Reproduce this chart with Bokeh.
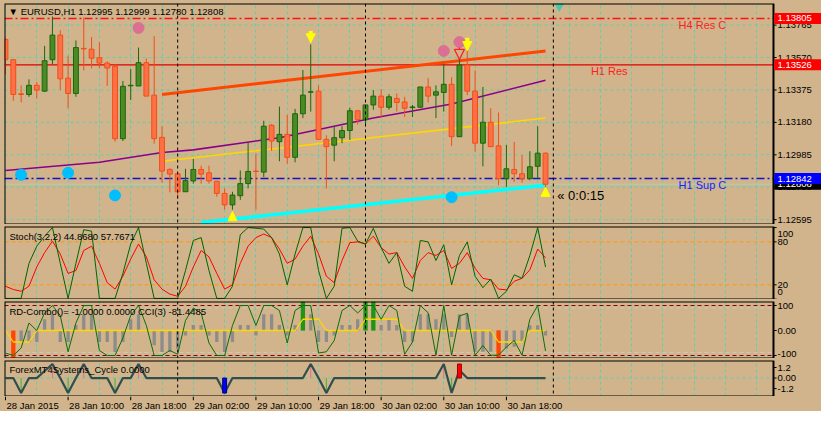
from bokeh.plotting import figure
from bokeh.layouts import column
from bokeh.models import (Range1d, FixedTicker, Span, Label, Arrow, NormalHead,
                          ColumnDataSource, Grid)
from bokeh.core.properties import value
from bokeh.embed import file_html
from bokeh.resources import INLINE

# ---------------- data ----------------
opens = [1.13679,1.13557,1.13352,1.13348,1.13403,1.13368,1.13557,1.13705,1.13446,1.13354,
         1.13625,1.13620,1.13569,1.13537,1.13517,1.13082,1.13400,1.13399,1.13539,1.13344,
         1.13090,1.12897,1.12871,1.12763,1.12828,1.12897,1.12877,1.12826,1.12753,1.12684,
         1.12739,1.12812,1.12887,1.12881,1.13163,1.13064,1.13108,1.12970,1.13232,1.13362,
         1.13368,1.13078,1.13043,1.13088,1.13131,1.13250,1.13196,1.13285,1.13338,1.13271,
         1.13324,1.13303,1.13269,1.13271,1.13393,1.13344,1.13360,1.13409,1.13094,1.13525,
         1.13368,1.13055,1.13181,1.13039,1.12842,1.12897,1.12871,1.12842,1.12916,1.12995]
highs = [1.13689,1.13559,1.13403,1.13439,1.13423,1.13640,1.13817,1.13734,1.13581,1.13673,
         1.13811,1.13693,1.13663,1.13547,1.13531,1.13429,1.13501,1.13630,1.13565,1.13699,
         1.13157,1.12905,1.12873,1.12901,1.12960,1.12920,1.12920,1.12826,1.12783,1.12763,
         1.12891,1.13058,1.12993,1.13190,1.13170,1.13275,1.13226,1.13261,1.13495,1.13649,
         1.13403,1.13102,1.13153,1.13157,1.13269,1.13252,1.13287,1.13374,1.13380,1.13350,
         1.13354,1.13334,1.13285,1.13393,1.13446,1.13403,1.13531,1.13452,1.13560,1.13610,
         1.13492,1.13393,1.13265,1.13240,1.13045,1.13062,1.12984,1.13007,1.13157,1.12999]
lows = [1.13470,1.13309,1.13300,1.13334,1.13324,1.13364,1.13531,1.13374,1.13265,1.13334,
        1.13492,1.13505,1.13505,1.13399,1.13064,1.13068,1.13315,1.13399,1.13338,1.13052,
        1.12818,1.12759,1.12720,1.12763,1.12812,1.12812,1.12812,1.12733,1.12655,1.12655,
        1.12714,1.12783,1.12655,1.12851,1.13009,1.12946,1.12931,1.12940,1.13206,1.13245,
        1.13078,1.12783,1.12946,1.13055,1.13074,1.13167,1.13167,1.13256,1.13206,1.13256,
        1.13245,1.13212,1.13212,1.13271,1.13299,1.13206,1.13245,1.13039,1.13094,1.13344,
        1.13005,1.12916,1.13034,1.12802,1.12792,1.12822,1.12818,1.12832,1.12842,1.12780]
closes = [1.13557,1.13348,1.13348,1.13403,1.13374,1.13551,1.13705,1.13442,1.13354,1.13630,
          1.13622,1.13566,1.13537,1.13507,1.13082,1.13397,1.13403,1.13539,1.13338,1.13082,
          1.12887,1.12869,1.12763,1.12830,1.12897,1.12869,1.12828,1.12753,1.12684,1.12743,
          1.12812,1.12885,1.12885,1.13157,1.13068,1.13108,1.12970,1.13232,1.13344,1.13364,
          1.13078,1.13034,1.13088,1.13131,1.13250,1.13196,1.13285,1.13338,1.13271,1.13334,
          1.13300,1.13265,1.13273,1.13393,1.13338,1.13364,1.13409,1.13094,1.13525,1.13368,
          1.13055,1.13181,1.13034,1.12842,1.12901,1.12871,1.12842,1.12913,1.12995,1.12808]

price_ticks = [1.12595, 1.12790, 1.12985, 1.13180, 1.13375, 1.13570, 1.13765]
price_tick_labels = ["1.12595", "1.12790", "1.12985", "1.13180", "1.13375", "1.13570", "1.13765"]
time_ticks = [0, 8, 16, 24, 32, 40, 48, 56, 64]
time_labels = ["28 Jan 2015", "28 Jan 10:00", "28 Jan 18:00", "29 Jan 02:00", "29 Jan 10:00",
               "29 Jan 18:00", "30 Jan 02:00", "30 Jan 10:00", "30 Jan 18:00"]
day_breaks = [22, 46, 70]

# price levels shown in boxes on the price scale (drawn in this order)
box_levels = [1.12808, 1.12842, 1.13526, 1.13805]
box_labels = ["1.12808", "1.12842", "1.13526", "1.13805"]
box_colors = ["#000000", "#0000FF", "#FF0000", "#FF0000"]
bid, h1_sup_c, h1_res, h4_res_c = box_levels

# channel / trend lines
trend_x = [20, 69]; trend_y = [1.13348, 1.13610]
yellow_x = [20, 69]; yellow_y = [1.12946, 1.13206]
cyan_x = [25, 69]; cyan_y = [1.12578, 1.12802]
purple_x = [0, 12, 20, 24, 35, 47, 57, 69]
purple_y = [1.12891, 1.12940, 1.12999, 1.13015, 1.13088, 1.13206, 1.13291, 1.13433]

blue_dot_x = [2, 8, 14, 57]; blue_dot_y = [1.12865, 1.12877, 1.12741, 1.12730]
pink_dot_x = [17, 56, 58]; pink_dot_y = [1.13748, 1.13610, 1.13663]

down_arrow_x = [39, 59]; down_arrow_tail = [1.13730, 1.13689]; down_arrow_tip = [1.13659, 1.13612]
up_arrow_x = [29, 69]; up_arrow_tail = [1.12595, 1.12731]; up_arrow_tip = [1.12643, 1.12790]
red_arrow_x = [58]; red_arrow_tail = [1.13630]; red_arrow_tip = [1.13559]
shift_marker_x = [70.75]; shift_marker_y = [1.13880]

stoch_main = [1,1,1,50,74,88,100,50,1,50,
              97,95,1,1,1,36,77,100,50,1,
              1,1,1,40,82,86,40,1,1,18,
              90,100,99,98,86,63,20,63,100,100,
              40,1,18,99,100,81,77,99,72,50,
              65,18,11,82,80,54,76,20,61,80,
              32,16,28,1,11,34,29,61,100,44.868]
stoch_signal = [18,13.5,11,18,45,65,81,63,36,40,
                68,74,50,23,14,32,56,77,59,27,
                14,7,4,18,45,68,59,36,14,20,
                50,74,86,91,86,70,50,56,74,88,
                63,32,23,54,79,80,77,88,72,63,
                65,45,29,54,65,61,68,43,50,65,
                43,29,27,14,13,25,29,41,70,57.767]

cci = [-90,-100,-70,30,0,70,100,60,-85,30,
       100,100,-80,-100,-100,-30,60,100,20,-100,
       -100,-80,-95,40,90,70,-50,-100,-100,20,
       100,100,20,100,100,80,-50,80,100,100,
       -90,-85,-40,80,100,70,100,100,45,100,
       80,-95,-46,100,71,-99,100,-99,58,69,
       -99,-60,-99,-99,-66,-40,-99,45,100,-81.45]
combo_hist = [0,0,-46,-46,-46,45,65,-46,-46,22,
              65,65,-46,-46,-86,-46,45,65,0,-59,
              -86,-86,-73,-20,22,22,-20,-46,-86,-46,
              22,22,-20,65,65,22,-20,22,65,65,
              -46,-46,-20,22,22,45,65,65,22,45,
              22,-46,-45,65,65,45,65,-26,65,65,
              -85,-85,-85,-85,-72,-65,-46,21,21,-20]
combo_line = [0,-46,-46,-46,0,0,0,0,0,0,
              0,0,0,0,0,0,0,0,0,0,
              0,0,0,0,0,0,0,0,0,0,
              0,0,0,0,0,0,0,0,45,45,
              45,0,0,0,0,0,45,45,45,45,
              45,0,0,0,0,0,0,0,0,0,
              0,0,0,-46,-46,-46,-46,0,0,0]
sell_bars = [1, 63]
buy_bars = [38, 46, 47]

cycle = [0,0,-1.7,0,0,0.8,1.6,0,-1.7,0,
         1.6,0,0,0,-1.7,0,0,1.6,0,0,
         0,0,0,0,0,0,0,0,-1.7,0,
         0,0,0,0,0,0,0,0,0,1.6,
         0,-1.7,0,0,0,0,0,0,0,0,
         0,0,0,0,0,0,1.6,-1.7,0.9,0,
         0,0,0,0,0,0,0,0,0,0]
cycle_low_bars = [28]
cycle_high_bars = [58]

# ---------------- style ----------------
TAN = "#D2B48C"
GRID = "#5FCFAE"
FONT = "Liberation Sans"
FS = "9.5px"
N = len(opens)
xs = list(range(N))

X0 = -0.125      # left edge of chart area (bars)
XE = 98.125      # right edge of chart area (bars) = price-scale border
XR = 104.26      # right edge of price-scale area
FW = 817
xr = Range1d(X0, XR)


def panel(h, y0, y1, top):
    p = figure(frame_width=FW, frame_height=h, x_range=xr, y_range=Range1d(y0, y1),
               output_backend="svg", toolbar_location=None,
               x_axis_location=None, y_axis_location=None,
               min_border_left=4, min_border_right=0, min_border_top=top,
               min_border_bottom=0, background_fill_color=TAN,
               border_fill_color=TAN, outline_line_color=None)
    p.xgrid.grid_line_color = None
    p.ygrid.grid_line_color = None
    p.add_layout(Grid(dimension=0, ticker=FixedTicker(ticks=list(range(0, 97, 4))),
                      grid_line_color=GRID, grid_line_dash="3 3", grid_line_width=1))
    for d in day_breaks:
        p.add_layout(Span(location=d, dimension="height", line_color="black",
                          line_dash="3 3", line_width=1))
    return p


def hlines(p, ys, color, dash="solid", width=1.0):
    p.segment(x0=[X0] * len(ys), y0=ys, x1=[XE] * len(ys), y1=ys,
              line_color=color, line_dash=dash, line_width=width)


def frame_box(p):
    yr = p.y_range
    p.quad(left=[X0], right=[XE], bottom=[yr.start], top=[yr.end],
           fill_color=None, line_color="black", line_width=2)


def price_scale(p, ticks, labels, label_pos=None):
    pos = label_pos if label_pos is not None else ticks
    p.segment(x0=[XE] * len(ticks), y0=ticks, x1=[XE + 0.4] * len(ticks), y1=ticks,
              line_color="black", line_width=1)
    p.text(x=[XE] * len(pos), y=pos, text=labels, x_offset=4, text_align="left",
           text_baseline="middle", text_font=value(FONT), text_font_size=FS,
           text_color="black")


def txt(p, x, y, t, color="black", size=FS):
    p.add_layout(Label(x=x, y=y, text=t, text_color=color, text_font=FONT,
                       text_font_size=size, text_baseline="middle"))


# ---------------- main price panel ----------------
pm = panel(221, 1.12566, 1.13895, 3)
hlines(pm, price_ticks, GRID, "3 3")

bull = [c > o for o, c in zip(opens, closes)]
src = ColumnDataSource(dict(
    x=xs, h=highs, l=lows,
    top=[max(o, c) for o, c in zip(opens, closes)],
    bot=[min(o, c) for o, c in zip(opens, closes)],
    fill=["#4E8A24" if b else "#FF7047" for b in bull],
    edge=["#17690C" if b else "#F24E16" for b in bull],
))

hlines(pm, [h4_res_c], "#FF1010", "8 3 2 3", 1.5)
hlines(pm, [h1_res], "#E00000", "solid", 1.2)
hlines(pm, [h1_sup_c], "#1010C8", "8 3 2 3", 1.5)
hlines(pm, [bid], "#A9CFB4", "solid", 1)

pm.line(purple_x, purple_y, line_color="#8B008B", line_width=1.6)
pm.line(yellow_x, yellow_y, line_color="#FFD700", line_width=1.6)
pm.line(trend_x, trend_y, line_color="#FF4500", line_width=3)
pm.line(cyan_x, cyan_y, line_color="#00FFFF", line_width=3.5)

pm.segment("x", "h", "x", "l", line_color="edge", line_width=1, source=src)
pm.vbar(x="x", width=0.62, top="top", bottom="bot", fill_color="fill",
        line_color="edge", line_width=1, source=src)

pm.scatter(blue_dot_x, blue_dot_y, size=11, color="#00BFFF")
pm.scatter(pink_dot_x, pink_dot_y, size=11, color="#DB7093")
pm.scatter(shift_marker_x, shift_marker_y, marker="inverted_triangle", size=9, color="#48C8AA")

for x, t0, t1 in zip(down_arrow_x + up_arrow_x, down_arrow_tail + up_arrow_tail,
                     down_arrow_tip + up_arrow_tip):
    pm.add_layout(Arrow(end=NormalHead(size=9, fill_color="#FFFF00", line_color="#FFFF00"),
                        x_start=x, y_start=t0, x_end=x, y_end=t1,
                        line_color="#FFFF00", line_width=4))
for x, t0, t1 in zip(red_arrow_x, red_arrow_tail, red_arrow_tip):
    pm.add_layout(Arrow(end=NormalHead(size=10, fill_alpha=0, line_color="#FF2020", line_width=1.2),
                        x_start=x, y_start=t0, x_end=x, y_end=t1,
                        line_color="#FF2020", line_width=1.2))

frame_box(pm)
price_scale(pm, price_ticks, price_tick_labels)
for yv, lab, col in zip(box_levels, box_labels, box_colors):
    pm.rect(x=[(XE + XR) / 2 + 0.05], y=[yv], width=XR - XE - 0.1, height=11,
            height_units="screen", fill_color=col, line_color=None)
    pm.text(x=[XE], y=[yv], text=[lab], x_offset=4, text_align="left",
            text_baseline="middle", text_font=value(FONT), text_font_size=FS,
            text_color="white")

txt(pm, 0.4, 1.13848, "\u25BC  EURUSD,H1  1.12995 1.12999 1.12780 1.12808")
txt(pm, 86.0, 1.13767, "H4 Res C", color="#FF2020", size="11px")
txt(pm, 74.8, 1.13492, "H1 Res", color="#FF2020", size="11px")
txt(pm, 86.0, 1.12802, "H1 Sup C", color="#2020FF", size="11px")
txt(pm, 70.5, 1.12743, "\u00AB 0:0:15", size="13px")

# ---------------- stochastic ----------------
ps = panel(73, -0.5, 101.5, 2)
hlines(ps, [80, 20], "#FF9900", "4 3", 1)
ps.line(xs, stoch_signal, line_color="#FF0000", line_width=1)
ps.line(xs, stoch_main, line_color="#006400", line_width=1)
frame_box(ps)
price_scale(ps, [100, 80, 20, 0], ["100", "80", "20", "0"], [91, 80, 20, 10])
txt(ps, 0.5, 88, "Stoch(3,2,2) 44.8680 57.7671")

# ---------------- RD-Combo / CCI ----------------
pr = panel(57, -112, 116, 2)
hlines(pr, [100, -100], "#8B0000", "4 3", 1)
hlines(pr, [90, -88], "#C8C8C8", "4 3", 1)
pr.vbar(x=xs, width=0.42, top=combo_hist, bottom=0, fill_color="#8C8C8C", line_color=None)
pr.vbar(x=sell_bars, width=0.55, top=0, bottom=-112, fill_color="#FF4500", line_color=None)
pr.vbar(x=buy_bars, width=0.55, top=116, bottom=0, fill_color="#1E9614", line_color=None)
pr.line(xs, combo_line, line_color="#FFD700", line_width=1.3)
pr.line(xs, cci, line_color="#0A6E0A", line_width=1)
frame_box(pr)
price_scale(pr, [100, 0, -100], ["100", "0.00", "-100"], [100, 0, -92])
txt(pr, 0.5, 78, "RD-Combo()=   -1.0000 0.0000  CCI(3) -81.4485")

# ---------------- cycle ----------------
pc = panel(36, -2.1, 2.0, 2)
hlines(pc, [0], GRID, "3 3", 1)
low_x = [i for i, v in enumerate(cycle) if v < -1]
high_x = [i for i, v in enumerate(cycle) if v > 1]
pc.segment(low_x, [0] * len(low_x), low_x, [cycle[i] for i in low_x], line_color="#3CB43C", line_width=1)
pc.segment(high_x, [0] * len(high_x), high_x, [cycle[i] for i in high_x], line_color="#E07090", line_width=1)
pc.line(xs, cycle, line_color="#2F4F4F", line_width=2.2)
pc.vbar(x=cycle_low_bars, width=0.5, top=0, bottom=-1.7, fill_color="#0000FF", line_color="#000080")
pc.vbar(x=cycle_high_bars, width=0.5, top=1.6, bottom=0, fill_color="#FF0000", line_color="#A00000")
frame_box(pc)
price_scale(pc, [1.2, 0, -1.2], ["1.2", "0.00", "-1.2"])
txt(pc, 0.5, 0.95, "ForexMT4Systems_Cycle 0.0000")

# ---------------- time labels strip ----------------
pt = figure(frame_width=FW, frame_height=15, x_range=xr, y_range=Range1d(0, 1),
            output_backend="svg", toolbar_location=None, x_axis_location=None,
            y_axis_location=None, min_border_left=4, min_border_right=0,
            min_border_top=0, min_border_bottom=0, background_fill_color=TAN,
            border_fill_color=TAN, outline_line_color=None)
pt.xgrid.grid_line_color = None
pt.ygrid.grid_line_color = None
pt.segment(time_ticks, [1] * len(time_ticks), time_ticks, [0.75] * len(time_ticks),
           line_color="black", line_width=1)
pt.text(x=time_ticks, y=[0.42] * len(time_ticks), text=time_labels, x_offset=1,
        text_align="left", text_baseline="middle", text_font=value(FONT),
        text_font_size=FS, text_color="black")

layout = column(pm, ps, pr, pc, pt, spacing=0, styles={"background-color": TAN})
open("out.html", "w").write(file_html(layout, INLINE))
